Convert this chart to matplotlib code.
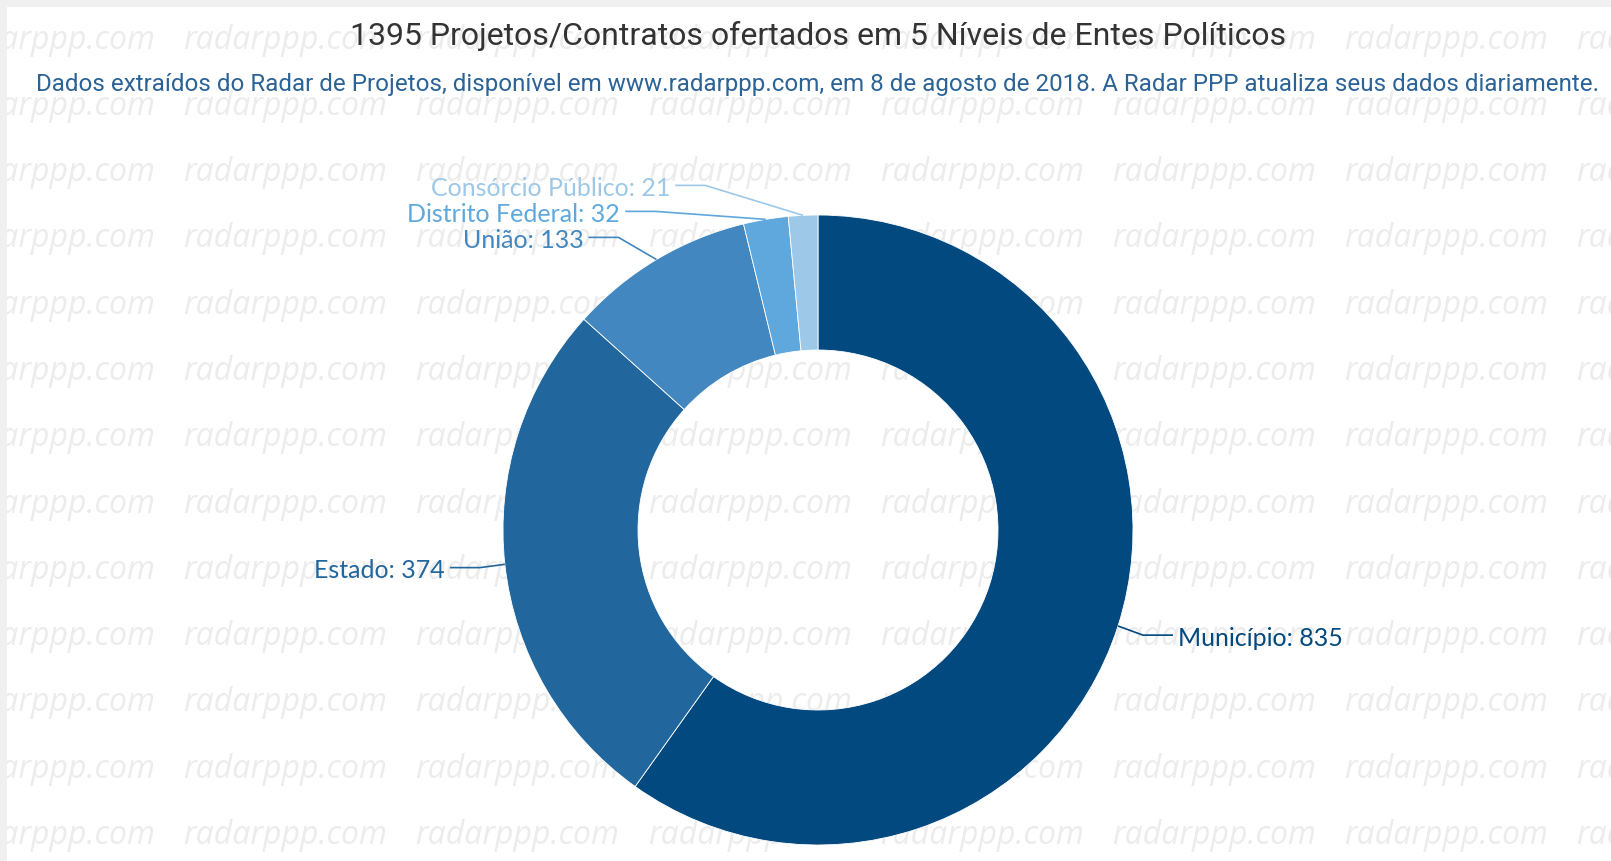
import numpy as np
import matplotlib
matplotlib.use("Agg")
from matplotlib import pyplot as plt
from matplotlib.patches import Rectangle

# data
categories = ["Município", "Estado", "União", "Distrito Federal", "Consórcio Público"]
values = [835, 374, 133, 32, 21]
colors = ["#02497f", "#21669d", "#4287bf", "#5fa8dd", "#9dc8e8"]

title = "1395 Projetos/Contratos ofertados em 5 Níveis de Entes Políticos"
subtitle = ("Dados extraídos do Radar de Projetos, disponível em www.radarppp.com, "
            "em 8 de agosto de 2018. A Radar PPP atualiza seus dados diariamente.")

W, H = 1611, 862
fig = plt.figure(figsize=(W / 100, H / 100), dpi=100)
ax = fig.add_axes([0, 0, 1, 1])

def Y(py):
    # pixel row (from top) -> data y
    return H - py

# watermark grid
for py in np.arange(40, H + 40, 66.3):
    for px in np.arange(-49, W + 10, 232.2):
        ax.text(px, Y(py), "radarppp.com", fontsize=23, style="italic",
                family=["Open Sans", "DejaVu Sans"], color="#ececec",
                ha="left", va="center", zorder=0, clip_on=True)

# frame on top/left
ax.add_patch(Rectangle((0, Y(8)), W, 8, color="#f0f0f0", zorder=1, lw=0))
ax.add_patch(Rectangle((0, 0), 7, H, color="#f0f0f0", zorder=1, lw=0))

cx, cy = 818, Y(531)
R, ring = 315, 135
wedges, _ = ax.pie(values, colors=colors, startangle=90, counterclock=False,
                   center=(cx, cy), radius=R,
                   wedgeprops=dict(width=ring, linewidth=0.6, edgecolor="white"))
for w in wedges:
    w.set_zorder(2)

# label placement (highcharts-like)
labs = []
for w, cat, v, c in zip(wedges, categories, values, colors):
    mid = np.deg2rad((w.theta1 + w.theta2) / 2)
    ex, ey = cx + R * np.cos(mid), cy + R * np.sin(mid)
    ly = cy + 345 * np.sin(mid)
    labs.append(dict(text=f"{cat}: {v}", color=c, ex=ex, ey=ey, ly=ly,
                     left=np.cos(mid) < 0))

for side in (True, False):
    grp = sorted([l for l in labs if l["left"] == side], key=lambda l: -l["ly"])
    for i in range(1, len(grp)):
        if grp[i - 1]["ly"] - grp[i]["ly"] < 26:
            grp[i]["ly"] = grp[i - 1]["ly"] - 26

for l in labs:
    dy = l["ly"] - cy
    off = np.sqrt(max(375 ** 2 - dy ** 2, 0))
    sgn = -1 if l["left"] else 1
    tx = cx + sgn * off
    x1 = tx - sgn * 5
    x2 = x1 - sgn * 30
    ax.plot([x1, x2, l["ex"]], [l["ly"], l["ly"], l["ey"]], color=l["color"],
            lw=1.2, zorder=3, solid_capstyle="butt")
    ax.text(tx, l["ly"] - 2, l["text"], color=l["color"], fontsize=18,
            family=["Lato", "DejaVu Sans"], ha="right" if l["left"] else "left",
            va="center", zorder=4)

ax.text(818, Y(36), title, fontsize=23, color="#333333",
        family=["Roboto", "DejaVu Sans"], ha="center", va="center", zorder=4)
ax.text(818, Y(84), subtitle, fontsize=17.4, color="#2c6397",
        family=["Roboto", "DejaVu Sans"], ha="center", va="center", zorder=4)

ax.set_xlim(0, W)
ax.set_ylim(0, H)
ax.set_aspect("auto")
ax.axis("off")

fig.savefig("out.png", dpi=100, facecolor="white")
